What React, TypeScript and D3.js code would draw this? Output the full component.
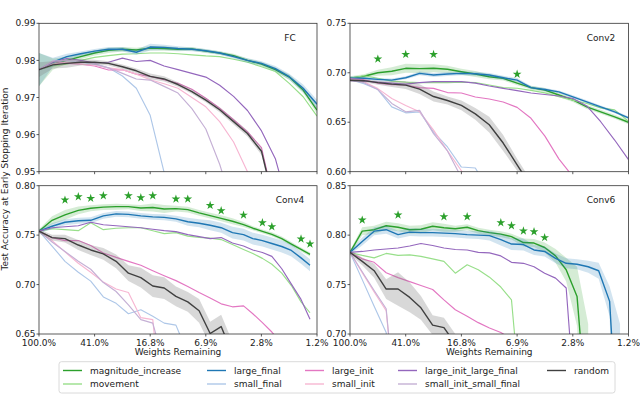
import React from 'react';
import * as d3 from 'd3';

// ---------- x positions (percent of weights remaining) ----------
const FC_X = [100, 80, 64, 51.2, 40.96, 32.77, 26.21, 20.97, 16.78, 13.42, 10.74, 8.59, 6.87, 5.5, 4.4, 3.52, 2.81, 2.25, 1.8, 1.44, 1.153];
const CONV2_X = [100, 80, 64, 51.2, 40.96, 32.77, 26.21, 20.97, 16.78, 13.42, 10.74, 8.59, 6.87, 5.5, 4.4, 3.52, 2.81, 2.25, 1.8, 1.44, 1.153];
const CONV4_X = [100, 81.1, 65.9, 53.2, 43.6, 35.6, 29.0, 23.8, 19.5, 16.1, 13.4, 11.1, 9.18, 7.65, 6.41, 5.37, 4.48, 3.75, 3.23, 2.77, 2.38, 2.03, 1.74, 1.49, 1.29];
const CONV6_X = [100, 82.2, 67.9, 56.0, 46.3, 38.4, 32.1, 26.6, 22.2, 18.5, 15.3, 12.8, 10.7, 8.92, 7.52, 6.21, 5.24, 4.42, 3.71, 3.13, 2.63, 2.2, 1.86, 1.56, 1.32];

const X_TICK_VALUES = [100, 40.96, 16.78, 6.872, 2.815, 1.153];
const X_TICK_LABELS = ['100.0%', '41.0%', '16.8%', '6.9%', '2.8%', '1.2%'];

const FC_Y_TICKS = [0.95, 0.96, 0.97, 0.98, 0.99];
const CONV2_Y_TICKS = [0.6, 0.65, 0.7, 0.75];
const CONV4_Y_TICKS = [0.65, 0.7, 0.75, 0.8];
const CONV6_Y_TICKS = [0.7, 0.75, 0.8, 0.85];

const PANEL_TITLES = ['FC', 'Conv2', 'Conv4', 'Conv6'];

// ---------- FC ----------
const FC_MAG = [0.9775, 0.979, 0.98, 0.981, 0.982, 0.9827, 0.983, 0.9828, 0.9833, 0.9832, 0.983, 0.9831, 0.9825, 0.982, 0.9813, 0.98, 0.979, 0.9775, 0.9755, 0.972, 0.9666];
const FC_MAG_SD = [0.0045, 0.0015, 0.0009, 0.0007, 0.0007, 0.0007, 0.0006, 0.0006, 0.0006, 0.0006, 0.0005, 0.0005, 0.0005, 0.0005, 0.0005, 0.0005, 0.0006, 0.0006, 0.0007, 0.0008, 0.001];
const FC_MOV = [0.9775, 0.9785, 0.979, 0.98, 0.9808, 0.9813, 0.9817, 0.9818, 0.982, 0.982, 0.9818, 0.9815, 0.9812, 0.981, 0.9803, 0.9795, 0.9783, 0.977, 0.9738, 0.9702, 0.965];
const FC_LF = [0.9775, 0.9795, 0.981, 0.9818, 0.9825, 0.983, 0.983, 0.9822, 0.9836, 0.9835, 0.9832, 0.983, 0.9826, 0.982, 0.981, 0.98, 0.9792, 0.9778, 0.9756, 0.9725, 0.9682];
const FC_LF_SD = [0.0045, 0.0012, 0.0008, 0.0006, 0.0006, 0.0006, 0.0006, 0.0007, 0.0009, 0.0007, 0.0006, 0.0005, 0.0005, 0.0005, 0.0005, 0.0006, 0.0006, 0.0007, 0.0008, 0.001, 0.0012];
const FC_SF = [0.9775, 0.9797, 0.98, 0.9795, 0.979, 0.978, 0.9758, 0.9725, 0.9652, 0.9498, 0.93];
const FC_LI = [0.9775, 0.9798, 0.9792, 0.979, 0.9785, 0.9774, 0.9775, 0.9763, 0.9757, 0.9748, 0.9738, 0.9722, 0.9698, 0.9671, 0.964, 0.9607, 0.9565, 0.94];
const FC_SI = [0.9775, 0.979, 0.9795, 0.979, 0.9787, 0.978, 0.9775, 0.9763, 0.9748, 0.9737, 0.9725, 0.97, 0.9675, 0.9635, 0.958, 0.95, 0.94];
const FC_LILF = [0.9775, 0.9795, 0.9805, 0.98, 0.9793, 0.9795, 0.9806, 0.9797, 0.98, 0.9785, 0.9775, 0.9765, 0.9755, 0.9733, 0.9703, 0.9665, 0.961, 0.9535, 0.94];
const FC_SISF = [0.9775, 0.9798, 0.98, 0.9797, 0.979, 0.978, 0.9765, 0.975, 0.9747, 0.973, 0.9712, 0.967, 0.9615, 0.952, 0.94];
const FC_RND = [0.9775, 0.9788, 0.9792, 0.9795, 0.9795, 0.9792, 0.9783, 0.9772, 0.9757, 0.975, 0.9735, 0.9716, 0.9693, 0.9667, 0.9635, 0.9603, 0.9555, 0.94];
const FC_RND_SD = [0.002, 0.001, 0.0012, 0.0009, 0.0007, 0.0006, 0.0006, 0.0006, 0.0008, 0.0007, 0.0006, 0.0006, 0.0006, 0.0007, 0.0008, 0.0008, 0.001, 0.001];

// ---------- Conv2 ----------
const CONV2_MAG = [0.6945, 0.6965, 0.7, 0.7015, 0.7045, 0.7042, 0.7045, 0.7035, 0.701, 0.6987, 0.696, 0.6943, 0.6895, 0.685, 0.6825, 0.6775, 0.6725, 0.6655, 0.6605, 0.6555, 0.65];
const CONV2_MAG_SD = [0.002, 0.002, 0.003, 0.004, 0.0045, 0.0045, 0.004, 0.0035, 0.003, 0.003, 0.0025, 0.002, 0.002, 0.002, 0.002, 0.002, 0.002, 0.002, 0.002, 0.002, 0.002];
const CONV2_MOV = [0.6945, 0.697, 0.6945, 0.6915, 0.6905, 0.69, 0.69, 0.69, 0.6905, 0.69, 0.6876, 0.685, 0.6843, 0.6822, 0.6797, 0.6757, 0.6723, 0.669, 0.6645, 0.6625, 0.651];
const CONV2_LF = [0.6945, 0.6945, 0.6933, 0.6926, 0.695, 0.6994, 0.6977, 0.6987, 0.6994, 0.699, 0.6977, 0.695, 0.6926, 0.685, 0.6831, 0.6807, 0.6757, 0.6706, 0.6655, 0.6605, 0.6544];
const CONV2_LF_SD = [0.002, 0.0015, 0.0015, 0.0015, 0.0015, 0.002, 0.002, 0.002, 0.002, 0.002, 0.002, 0.002, 0.002, 0.0015, 0.0015, 0.0015, 0.0015, 0.0015, 0.0015, 0.0015, 0.0015];
const CONV2_SF = [0.693, 0.689, 0.683, 0.6655, 0.6595, 0.6605, 0.64, 0.625, 0.6047, 0.6037, 0.58];
const CONV2_LI = [0.694, 0.693, 0.6895, 0.688, 0.6876, 0.685, 0.6842, 0.68, 0.6795, 0.6755, 0.6735, 0.6705, 0.665, 0.654, 0.636, 0.613, 0.595];
const CONV2_SI = [0.693, 0.691, 0.684, 0.674, 0.667, 0.6605, 0.642, 0.621, 0.601, 0.58];
const CONV2_LILF = [0.692, 0.6915, 0.6905, 0.6895, 0.6885, 0.69, 0.691, 0.691, 0.691, 0.6895, 0.6866, 0.6842, 0.682, 0.6795, 0.678, 0.6765, 0.674, 0.6665, 0.6505, 0.632, 0.6122];
const CONV2_SISF = [0.693, 0.69, 0.683, 0.669, 0.6605, 0.662, 0.6385, 0.621, 0.594];
const CONV2_RND = [0.6925, 0.692, 0.69, 0.6885, 0.6875, 0.6835, 0.676, 0.672, 0.667, 0.6585, 0.6475, 0.629, 0.607, 0.585];
const CONV2_RND_SD = [0.0015, 0.0015, 0.002, 0.003, 0.004, 0.005, 0.005, 0.004, 0.005, 0.006, 0.008, 0.008, 0.006, 0.006];
const CONV2_STAR_IDX = [2, 4, 6, 12];
const CONV2_STAR_Y = [0.7139, 0.7186, 0.7186, 0.6986];

// ---------- Conv4 ----------
const CONV4_MAG = [0.754, 0.765, 0.7705, 0.775, 0.7772, 0.7783, 0.7788, 0.7788, 0.7775, 0.778, 0.7765, 0.7768, 0.7758, 0.7725, 0.7697, 0.767, 0.764, 0.7607, 0.757, 0.7538, 0.7508, 0.7465, 0.741, 0.7355, 0.7305];
const CONV4_MAG_SD = [0.002, 0.004, 0.005, 0.004, 0.003, 0.003, 0.003, 0.0025, 0.003, 0.004, 0.004, 0.003, 0.003, 0.003, 0.003, 0.003, 0.003, 0.0025, 0.002, 0.002, 0.002, 0.002, 0.002, 0.002, 0.002];
const CONV4_MOV = [0.754, 0.7565, 0.7555, 0.7545, 0.7625, 0.7555, 0.757, 0.7575, 0.7575, 0.7545, 0.7515, 0.7525, 0.749, 0.7478, 0.747, 0.7455, 0.7405, 0.7355, 0.7315, 0.7265, 0.7205, 0.7115, 0.699, 0.6825, 0.6715];
const CONV4_LF = [0.754, 0.759, 0.763, 0.7645, 0.765, 0.7695, 0.7715, 0.771, 0.7695, 0.7685, 0.768, 0.7665, 0.7635, 0.762, 0.76, 0.7575, 0.7525, 0.7505, 0.7465, 0.7445, 0.7415, 0.7385, 0.7345, 0.727, 0.7195];
const CONV4_LF_SD = [0.002, 0.003, 0.003, 0.003, 0.003, 0.003, 0.003, 0.003, 0.003, 0.003, 0.003, 0.003, 0.004, 0.004, 0.005, 0.005, 0.006, 0.006, 0.006, 0.006, 0.006, 0.006, 0.006, 0.006, 0.006];
const CONV4_SF = [0.754, 0.739, 0.7235, 0.7125, 0.7035, 0.6875, 0.681, 0.6705, 0.6745, 0.668, 0.661, 0.659, 0.63];
const CONV4_LI = [0.754, 0.7475, 0.7445, 0.7445, 0.7395, 0.732, 0.7275, 0.7235, 0.7195, 0.714, 0.709, 0.704, 0.698, 0.692, 0.6865, 0.6805, 0.6775, 0.6785, 0.6705, 0.6615, 0.652, 0.64];
const CONV4_SI = [0.754, 0.7445, 0.733, 0.7215, 0.7125, 0.7025, 0.6955, 0.692, 0.6665, 0.6645, 0.55];
const CONV4_LILF = [0.754, 0.7575, 0.7585, 0.7595, 0.763, 0.7605, 0.7595, 0.7585, 0.7575, 0.756, 0.7545, 0.7535, 0.7505, 0.7485, 0.7465, 0.7475, 0.742, 0.739, 0.735, 0.7325, 0.7285, 0.716, 0.7005, 0.685, 0.665];
const CONV4_SISF = [0.754, 0.743, 0.7335, 0.7235, 0.7155, 0.702, 0.693, 0.6795, 0.6645, 0.661, 0.62];
const CONV4_RND = [0.754, 0.7475, 0.7465, 0.74, 0.735, 0.731, 0.7235, 0.7115, 0.707, 0.6985, 0.6965, 0.688, 0.6825, 0.6735, 0.6505, 0.6575, 0.63];
const CONV4_RND_SD = [0.002, 0.003, 0.004, 0.005, 0.005, 0.006, 0.007, 0.008, 0.01, 0.011, 0.011, 0.01, 0.01, 0.012, 0.012, 0.012, 0.012];
const CONV4_STAR_IDX = [2, 3, 4, 5, 7, 8, 9, 11, 12, 14, 15, 17, 19, 20, 23, 24];
const CONV4_STAR_Y = [0.7855, 0.7889, 0.7872, 0.7899, 0.7899, 0.7879, 0.7899, 0.7865, 0.7865, 0.7801, 0.7747, 0.7703, 0.7626, 0.7585, 0.7461, 0.741];

// ---------- Conv6 ----------
const CONV6_MAG = [0.7825, 0.804, 0.8055, 0.8095, 0.808, 0.8055, 0.806, 0.809, 0.8075, 0.8065, 0.808, 0.8045, 0.8025, 0.801, 0.7985, 0.7925, 0.792, 0.7875, 0.779, 0.765, 0.738, 0.6];
const CONV6_MAG_SD = [0.002, 0.004, 0.004, 0.004, 0.004, 0.004, 0.004, 0.004, 0.004, 0.003, 0.003, 0.003, 0.003, 0.003, 0.003, 0.004, 0.004, 0.005, 0.007, 0.012, 0.03, 0.11];
const CONV6_MOV = [0.7825, 0.7795, 0.777, 0.7815, 0.7795, 0.78, 0.7785, 0.776, 0.7735, 0.7615, 0.77, 0.765, 0.7575, 0.7475, 0.7345, 0.6];
const CONV6_LF = [0.7825, 0.7935, 0.804, 0.8055, 0.8005, 0.803, 0.8025, 0.8025, 0.802, 0.8015, 0.8005, 0.8, 0.7995, 0.7955, 0.791, 0.7905, 0.785, 0.7835, 0.7765, 0.7715, 0.7705, 0.768, 0.764, 0.733, 0.55];
const CONV6_LF_SD = [0.002, 0.004, 0.004, 0.004, 0.004, 0.004, 0.004, 0.004, 0.004, 0.004, 0.004, 0.004, 0.005, 0.006, 0.006, 0.006, 0.005, 0.005, 0.005, 0.005, 0.005, 0.006, 0.008, 0.015, 0.16];
const CONV6_SF = [0.7825, 0.755, 0.728, 0.7015, 0.6];
const CONV6_LI = [0.7825, 0.776, 0.7725, 0.762, 0.757, 0.753, 0.749, 0.745, 0.7345, 0.7245, 0.718, 0.7115, 0.706, 0.7015, 0.695, 0.68];
const CONV6_SI = [0.7825, 0.762, 0.7425, 0.7235, 0.6];
const CONV6_LILF = [0.7825, 0.7835, 0.785, 0.786, 0.787, 0.789, 0.7915, 0.7895, 0.787, 0.7855, 0.785, 0.7825, 0.782, 0.779, 0.7725, 0.7715, 0.768, 0.7615, 0.7565, 0.7465, 0.6];
const CONV6_SISF = [0.7825, 0.763, 0.744, 0.7255, 0.6];
const CONV6_RND = [0.7825, 0.7735, 0.764, 0.7455, 0.7455, 0.737, 0.7265, 0.709, 0.7065, 0.69];
const CONV6_RND_SD = [0.002, 0.004, 0.007, 0.01, 0.017, 0.015, 0.012, 0.01, 0.01, 0.01];
const CONV6_STAR_IDX = [1, 4, 8, 10, 13, 14, 15, 16, 17];
const CONV6_STAR_Y = [0.8153, 0.8204, 0.8187, 0.8187, 0.8126, 0.8096, 0.8042, 0.8035, 0.7975];

// ---------- legend ----------
const SERIES_NAMES = ['magnitude_increase', 'movement', 'large_final', 'small_final', 'large_init', 'small_init', 'large_init_large_final', 'small_init_small_final', 'random'];
const SERIES_COLORS = ['#2ca02c', '#98df8a', '#1f77b4', '#aec7e8', '#e377c2', '#f7b6d2', '#9467bd', '#c5b0d5', '#404040'];

const FONT = "'DejaVu Sans', 'Liberation Sans', sans-serif";
const STAR_COLOR = '#2ca02c';
const AXIS_COLOR = '#333';

type Band = { sd: number[]; color: string; opacity: number };
type PanelProps = {
  title: string;
  xs: number[];
  yTicks: number[];
  box: { l: number; r: number; t: number; b: number };
  lines: number[][];
  bands: (Band | null)[];
  starIdx?: number[];
  starY?: number[];
  xLabels: boolean;
  id: string;
};

function Panel(p: PanelProps) {
  const { box, xs, yTicks } = p;
  const x = d3.scaleLog().domain([100, 1.153]).range([box.l, box.r]);
  const y = d3.scaleLinear().domain([yTicks[0], yTicks[yTicks.length - 1]]).range([box.b, box.t]);
  const clipId = `clip-${p.id}`;
  const starPath = d3.symbol().type(d3.symbolStar).size(24)() as string;
  return (
    <g>
      <defs>
        <clipPath id={clipId}>
          <rect x={box.l} y={box.t} width={box.r - box.l} height={box.b - box.t} />
        </clipPath>
      </defs>
      <g clipPath={`url(#${clipId})`}>
        {p.lines.map((vals, si) => {
          const band = p.bands[si];
          const line = d3
            .line<number>()
            .x((_, i) => x(xs[i]))
            .y((d) => y(d));
          let areaPath: string | null = null;
          if (band) {
            const area = d3
              .area<number>()
              .x((_, i) => x(xs[i]))
              .y0((d, i) => y(d - band.sd[i]))
              .y1((d, i) => y(d + band.sd[i]));
            areaPath = area(vals.slice(0, band.sd.length));
          }
          const heavy = si === 0 || si === 2 || si === 8;
          return (
            <g key={si}>
              {areaPath && <path d={areaPath} fill={band!.color} fillOpacity={band!.opacity} stroke="none" />}
              <path d={line(vals) as string} fill="none" stroke={SERIES_COLORS[si]} strokeWidth={heavy ? 1.4 : 1.15} strokeLinejoin="round" />
            </g>
          );
        })}
      </g>
      {p.starIdx &&
        p.starIdx.map((k, i) => (
          <path key={'s' + i} d={starPath} transform={`translate(${x(xs[k])},${y(p.starY![i])})`} fill={STAR_COLOR} />
        ))}
      <rect x={box.l} y={box.t} width={box.r - box.l} height={box.b - box.t} fill="none" stroke={AXIS_COLOR} strokeWidth={0.8} />
      {yTicks.map((t) => (
        <g key={'y' + t}>
          <line x1={box.l - 2.5} x2={box.l} y1={y(t)} y2={y(t)} stroke={AXIS_COLOR} strokeWidth={0.8} />
          <text x={box.l - 3.5} y={y(t)} dy="0.35em" textAnchor="end" fontSize={9} fontFamily={FONT} fill="#222">
            {t.toFixed(2)}
          </text>
        </g>
      ))}
      {X_TICK_VALUES.map((t, i) => (
        <g key={'x' + i}>
          <line x1={x(t)} x2={x(t)} y1={box.b} y2={box.b + 2.5} stroke={AXIS_COLOR} strokeWidth={0.8} />
          {p.xLabels && (
            <text x={x(t)} y={box.b + 11.5} textAnchor="middle" fontSize={9} fontFamily={FONT} fill="#222">
              {X_TICK_LABELS[i]}
            </text>
          )}
        </g>
      ))}
      {p.xLabels && (
        <text x={(box.l + box.r) / 2} y={box.b + 20.5} textAnchor="middle" fontSize={9} fontFamily={FONT} fill="#222">
          Weights Remaining
        </text>
      )}
      <text x={box.l + 251} y={box.t + 17.5} textAnchor="middle" fontSize={9} fontFamily={FONT} fill="#222">
        {p.title}
      </text>
    </g>
  );
}

const GREEN_BAND = (sd: number[]): Band => ({ sd, color: '#2ca02c', opacity: 0.2 });
const BLUE_BAND = (sd: number[]): Band => ({ sd, color: '#1f77b4', opacity: 0.2 });
const GRAY_BAND = (sd: number[]): Band => ({ sd, color: '#7f7f7f', opacity: 0.3 });

export default function App() {
  const top = { t: 23.3, b: 171.7 };
  const bot = { t: 185.7, b: 334 };
  const left = { l: 39, r: 317 };
  const right = { l: 350, r: 628.5 };

  const legendCols = [63, 207, 305, 398, 547];
  const legendRows = [370.5, 384];

  return (
    <svg width={640} height={395} style={{ position: 'absolute', left: 0, top: 0, background: '#fff' }}>
      <rect x={0} y={0} width={640} height={395} fill="#fff" />
      <Panel
        id="fc"
        title={PANEL_TITLES[0]}
        xs={FC_X}
        yTicks={FC_Y_TICKS}
        box={{ ...left, ...top }}
        lines={[FC_MAG, FC_MOV, FC_LF, FC_SF, FC_LI, FC_SI, FC_LILF, FC_SISF, FC_RND]}
        bands={[GREEN_BAND(FC_MAG_SD), null, BLUE_BAND(FC_LF_SD), null, null, null, null, null, GRAY_BAND(FC_RND_SD)]}
        xLabels={false}
      />
      <Panel
        id="c2"
        title={PANEL_TITLES[1]}
        xs={CONV2_X}
        yTicks={CONV2_Y_TICKS}
        box={{ ...right, ...top }}
        lines={[CONV2_MAG, CONV2_MOV, CONV2_LF, CONV2_SF, CONV2_LI, CONV2_SI, CONV2_LILF, CONV2_SISF, CONV2_RND]}
        bands={[GREEN_BAND(CONV2_MAG_SD), null, BLUE_BAND(CONV2_LF_SD), null, null, null, null, null, GRAY_BAND(CONV2_RND_SD)]}
        starIdx={CONV2_STAR_IDX}
        starY={CONV2_STAR_Y}
        xLabels={false}
      />
      <Panel
        id="c4"
        title={PANEL_TITLES[2]}
        xs={CONV4_X}
        yTicks={CONV4_Y_TICKS}
        box={{ ...left, ...bot }}
        lines={[CONV4_MAG, CONV4_MOV, CONV4_LF, CONV4_SF, CONV4_LI, CONV4_SI, CONV4_LILF, CONV4_SISF, CONV4_RND]}
        bands={[GREEN_BAND(CONV4_MAG_SD), null, BLUE_BAND(CONV4_LF_SD), null, null, null, null, null, GRAY_BAND(CONV4_RND_SD)]}
        starIdx={CONV4_STAR_IDX}
        starY={CONV4_STAR_Y}
        xLabels={true}
      />
      <Panel
        id="c6"
        title={PANEL_TITLES[3]}
        xs={CONV6_X}
        yTicks={CONV6_Y_TICKS}
        box={{ ...right, ...bot }}
        lines={[CONV6_MAG, CONV6_MOV, CONV6_LF, CONV6_SF, CONV6_LI, CONV6_SI, CONV6_LILF, CONV6_SISF, CONV6_RND]}
        bands={[GREEN_BAND(CONV6_MAG_SD), null, BLUE_BAND(CONV6_LF_SD), null, null, null, null, null, GRAY_BAND(CONV6_RND_SD)]}
        starIdx={CONV6_STAR_IDX}
        starY={CONV6_STAR_Y}
        xLabels={true}
      />
      <text transform="translate(8,179) rotate(-90)" textAnchor="middle" fontSize={9} fontFamily={FONT} fill="#222">
        Test Accuracy at Early Stopping Iteration
      </text>
      <rect x={59} y={361.7} width={556} height={31.3} rx={2.5} fill="#fff" fillOpacity={0.8} stroke="#d0d0d0" strokeWidth={0.8} />
      {SERIES_NAMES.map((name, i) => {
        const col = Math.floor(i / 2);
        const row = i % 2;
        const lx = legendCols[col];
        const ly = legendRows[row];
        return (
          <g key={name}>
            <line x1={lx} x2={lx + 19} y1={ly} y2={ly} stroke={SERIES_COLORS[i]} strokeWidth={1.4} />
            <text x={lx + 27} y={ly} dy="0.35em" fontSize={9} fontFamily={FONT} fill="#222">
              {name}
            </text>
          </g>
        );
      })}
    </svg>
  );
}
